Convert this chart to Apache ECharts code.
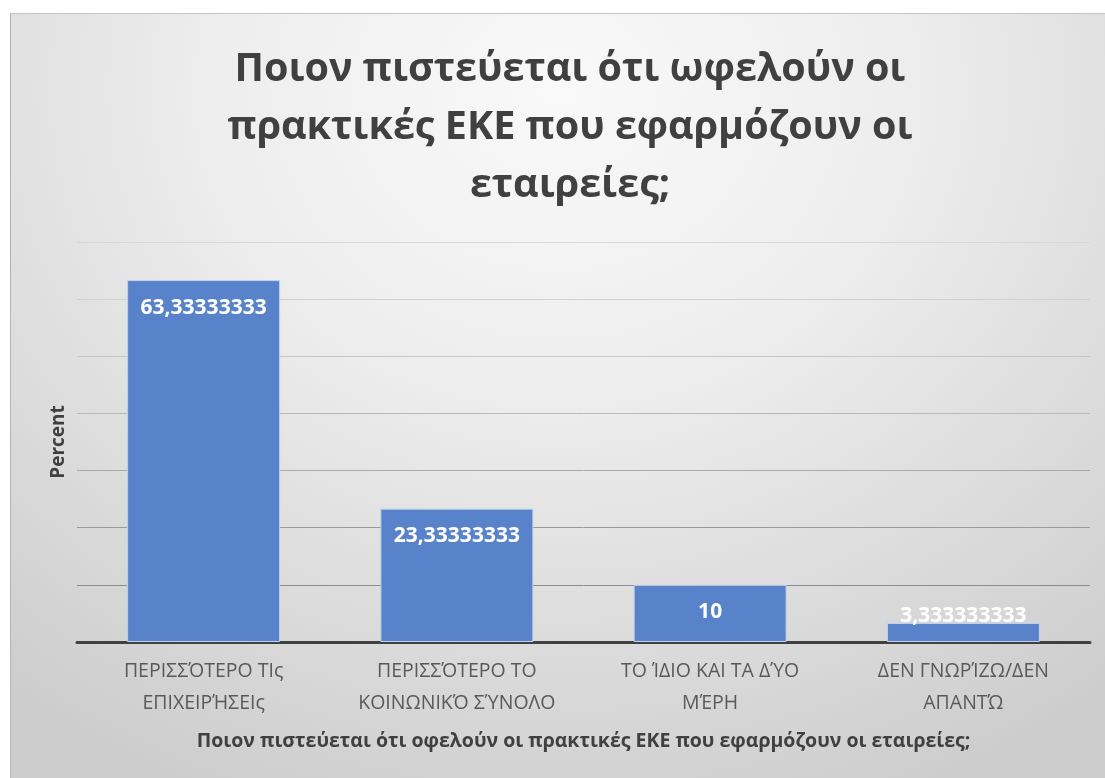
<!DOCTYPE html>
<html>
<head>
<meta charset="utf-8">
<title>Ποιον πιστεύεται ότι ωφελούν οι πρακτικές ΕΚΕ που εφαρμόζουν οι εταιρείες;</title>
<script src="https://cdn.jsdelivr.net/npm/echarts@6/dist/echarts.min.js"></script>
<style>
  html, body { margin: 0; padding: 0; background: #ffffff; }
  #panel {
    position: absolute; left: 10px; top: 13px; width: 1095px; height: 765px;
    box-sizing: border-box;
    border-left: 1px solid #b4b4b4; border-top: 1px solid #c4c4c4;
    background: radial-gradient(ellipse 80% 100% at 50% 10%, #f9f9f9 0%, #eeeeee 38%, #dedede 68%, #cdcdcd 100%);
  }
  #chart { width: 100%; height: 100%; }
</style>
</head>
<body>
<div id="panel"><div id="chart"></div></div>
<script>
// Survey answers and their share of respondents (%)
const categories = [
  'ΠΕΡΙΣΣΌΤΕΡΟ ΤΙς\nΕΠΙΧΕΙΡΉΣΕΙς',
  'ΠΕΡΙΣΣΌΤΕΡΟ ΤΟ\nΚΟΙΝΩΝΙΚΌ ΣΎΝΟΛΟ',
  'ΤΟ ΊΔΙΟ ΚΑΙ ΤΑ ΔΎΟ\nΜΈΡΗ',
  'ΔΕΝ ΓΝΩΡΊΖΩ/ΔΕΝ\nΑΠΑΝΤΏ'
];
const percents = [63.33333333, 23.33333333, 10, 3.333333333];

// Value axis range (tick labels are hidden, only gridlines are drawn)
const axisMin = 0;
const axisMax = 70;
const axisStep = 10;

const titleText = 'Ποιον πιστεύεται ότι ωφελούν οι\nπρακτικές ΕΚΕ που εφαρμόζουν οι\nεταιρείες;';
const xAxisTitle = 'Ποιον πιστεύεται ότι οφελούν οι πρακτικές ΕΚΕ που εφαρμόζουν οι εταιρείες;';
const yAxisTitle = 'Percent';

const FONT = '"Open Sans", "Noto Sans", sans-serif';

// Greek-style decimal comma
const fmt = v => String(v).replace('.', ',');

// Very short bars get their label lifted so it still reads
const barData = percents.map(v =>
  v < 5 ? { value: v, label: { position: 'top', distance: -4 } } : v
);

const chart = echarts.init(document.getElementById('chart'), null, { renderer: 'canvas' });

chart.setOption({
  animation: false,
  title: {
    text: titleText,
    left: 554,
    top: 22,
    textAlign: 'center',
    textStyle: {
      fontFamily: FONT,
      fontWeight: 'bold',
      fontSize: 39.5,
      lineHeight: 58,
      color: '#404040'
    }
  },
  grid: { left: 66, right: 15, top: 228, bottom: 136, containLabel: false },
  xAxis: {
    type: 'category',
    data: categories,
    axisLine: { show: true, lineStyle: { color: '#404040', width: 3 } },
    axisTick: { show: false },
    axisLabel: {
      fontFamily: FONT,
      fontSize: 19.5,
      lineHeight: 32,
      color: '#595959',
      margin: 13,
      interval: 0
    },
    name: xAxisTitle,
    nameLocation: 'middle',
    nameGap: 89,
    nameTextStyle: {
      fontFamily: FONT,
      fontWeight: 'bold',
      fontSize: 19.5,
      color: '#404040'
    }
  },
  yAxis: {
    type: 'value',
    min: axisMin,
    max: axisMax,
    interval: axisStep,
    axisLabel: { show: false },
    axisLine: { show: false },
    axisTick: { show: false },
    splitLine: {
      show: true,
      lineStyle: {
        width: 1,
        color: ['#888888', '#8c8c8c', '#9a9a9a', '#aaaaaa', '#b9b9b9', '#c6c6c6', '#d0d0d0', '#d8d8d8']
      }
    },
    name: yAxisTitle,
    nameLocation: 'middle',
    nameRotate: 90,
    nameGap: 9,
    nameTextStyle: {
      fontFamily: FONT,
      fontWeight: 'bold',
      fontSize: 19,
      color: '#404040'
    }
  },
  series: [{
    type: 'bar',
    data: barData,
    barWidth: '60.4%',
    itemStyle: {
      color: '#5882c9',
      borderColor: '#c3d1ec',
      borderWidth: 1
    },
    label: {
      show: true,
      position: 'insideTop',
      distance: 17,
      formatter: p => fmt(p.value),
      fontFamily: FONT,
      fontWeight: 'bold',
      fontSize: 21,
      color: '#ffffff'
    }
  }]
});
</script>
</body>
</html>
